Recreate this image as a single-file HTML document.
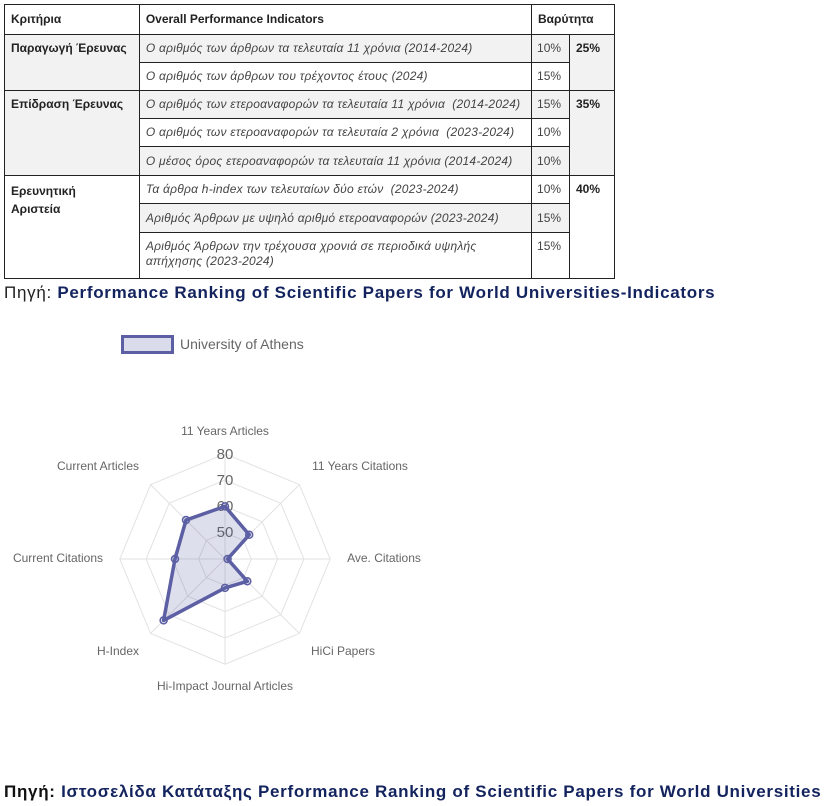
<!DOCTYPE html>
<html><head><meta charset="utf-8"><style>
body{margin:0;width:834px;height:806px;background:#fff;font-family:"Liberation Sans","DejaVu Sans",sans-serif;position:relative;overflow:hidden}
table{position:absolute;left:4px;top:4px;border-collapse:collapse;width:611px;font-size:12px;color:#222}
td{border:1px solid #222;padding:0 6px;vertical-align:top;line-height:15px}
td.i{font-style:italic;color:#444;vertical-align:middle;font-size:12px;letter-spacing:0.25px}
td.p{color:#444;vertical-align:middle;padding:0 5px}
td.b{font-weight:bold;padding-top:6px}
.g{background:#f2f2f2}
tr.h td{font-weight:bold;vertical-align:middle}
.src{position:absolute;left:4px;font-size:17px;color:#222;white-space:nowrap;letter-spacing:0.7px}
.src b{color:#13235e}
</style></head><body>
<table>
<colgroup><col style="width:135px"><col style="width:393px"><col style="width:38px"><col style="width:45px"></colgroup>
<tr class="h" style="height:30px"><td>Κριτήρια</td><td>Overall Performance Indicators</td><td colspan="2">Βαρύτητα</td></tr>
<tr style="height:28px"><td rowspan="2" class="b g">Παραγωγή Έρευνας</td><td class="i g">Ο αριθμός των άρθρων τα τελευταία 11 χρόνια (2014-2024)</td><td class="p g">10%</td><td rowspan="2" class="b g">25%</td></tr>
<tr style="height:28px"><td class="i">Ο αριθμός των άρθρων του τρέχοντος έτους (2024)</td><td class="p">15%</td></tr>
<tr style="height:28px"><td rowspan="3" class="b g">Επίδραση Έρευνας</td><td class="i g">Ο αριθμός των ετεροαναφορών τα τελευταία 11 χρόνια &nbsp;(2014-2024)</td><td class="p g">15%</td><td rowspan="3" class="b g">35%</td></tr>
<tr style="height:28px"><td class="i">Ο αριθμός των ετεροαναφορών τα τελευταία 2 χρόνια &nbsp;(2023-2024)</td><td class="p">10%</td></tr>
<tr style="height:29px"><td class="i g">Ο μέσος όρος ετεροαναφορών τα τελευταία 11 χρόνια (2014-2024)</td><td class="p g">10%</td></tr>
<tr style="height:28px"><td rowspan="3" class="b" style="line-height:18px">Ερευνητική<br>Αριστεία</td><td class="i">Τα άρθρα h-index των τελευταίων δύο ετών &nbsp;(2023-2024)</td><td class="p">10%</td><td rowspan="3" class="b">40%</td></tr>
<tr style="height:29px"><td class="i g">Αριθμός Άρθρων με υψηλό αριθμό ετεροαναφορών (2023-2024)</td><td class="p g">15%</td></tr>
<tr style="height:46px"><td class="i" style="vertical-align:top;padding-top:6px">Αριθμός Άρθρων την τρέχουσα χρονιά σε περιοδικά υψηλής<br>απήχησης (2023-2024)</td><td class="p" style="vertical-align:top;padding-top:6px">15%</td></tr>
</table>
<div class="src" style="top:283px">Πηγή: <b>Performance Ranking of Scientific Papers for World Universities-Indicators</b></div>
<svg width="834" height="806" style="position:absolute;left:0;top:0" font-family="Liberation Sans, sans-serif">
<rect x="122.5" y="336.5" width="50" height="16" fill="#dadcec" stroke="#5c5fa3" stroke-width="3"/>
<text x="180" y="349" font-size="14" fill="#666">University of Athens</text>
<g fill="none" stroke="#e2e2e2" stroke-width="1">
<polygon points="225,532.7 243.6,540.4 251.3,559 243.6,577.6 225,585.3 206.4,577.6 198.7,559 206.4,540.4"/>
<polygon points="225,506.4 262.2,521.8 277.6,559 262.2,596.2 225,611.6 187.8,596.2 172.4,559 187.8,521.8"/>
<polygon points="225,480.1 280.8,503.2 303.9,559 280.8,614.8 225,637.9 169.2,614.8 146.1,559 169.2,503.2"/>
<polygon points="225,453.8 299.4,484.6 330.2,559 299.4,633.4 225,664.2 150.6,633.4 119.8,559 150.6,484.6"/>
<line x1="225" y1="559" x2="225" y2="453.8"/><line x1="225" y1="559" x2="299.4" y2="484.6"/><line x1="225" y1="559" x2="330.2" y2="559"/><line x1="225" y1="559" x2="299.4" y2="633.4"/><line x1="225" y1="559" x2="225" y2="664.2"/><line x1="225" y1="559" x2="150.6" y2="633.4"/><line x1="225" y1="559" x2="119.8" y2="559"/><line x1="225" y1="559" x2="150.6" y2="484.6"/>
</g>
<g font-size="15" fill="#666" text-anchor="middle">
<text x="225" y="459">80</text><text x="225" y="485">70</text><text x="225" y="511">60</text><text x="225" y="537">50</text>
</g>
<polygon points="225,506.4 249.2,534.8 227.6,559 247.3,581.3 225,587.9 163.6,620.4 175,559 186,520" fill="rgba(92,95,163,0.2)" stroke="#5c5fa3" stroke-width="3.5" stroke-linejoin="round"/>
<g fill="rgba(92,95,163,0.2)" stroke="#5c5fa3" stroke-width="1.5">
<circle cx="225" cy="506.4" r="3.5"/><circle cx="249.2" cy="534.8" r="3.5"/><circle cx="227.6" cy="559" r="3.5"/><circle cx="247.3" cy="581.3" r="3.5"/><circle cx="225" cy="587.9" r="3.5"/><circle cx="163.6" cy="620.4" r="3.5"/><circle cx="175" cy="559" r="3.5"/><circle cx="186" cy="520" r="3.5"/>
</g>
<g font-size="12" fill="#666" text-anchor="middle">
<text x="225" y="435">11 Years Articles</text>
<text x="360" y="470">11 Years Citations</text>
<text x="384" y="562">Ave. Citations</text>
<text x="343" y="655">HiCi Papers</text>
<text x="225" y="690">Hi-Impact Journal Articles</text>
<text x="118" y="655">H-Index</text>
<text x="58" y="562">Current Citations</text>
<text x="98" y="470">Current Articles</text>
</g>
</svg>
<div class="src" style="top:782px;font-weight:bold;color:#111">Πηγή: <b>Ιστοσελίδα Κατάταξης Performance Ranking of Scientific Papers for World Universities</b></div>
</body></html>
